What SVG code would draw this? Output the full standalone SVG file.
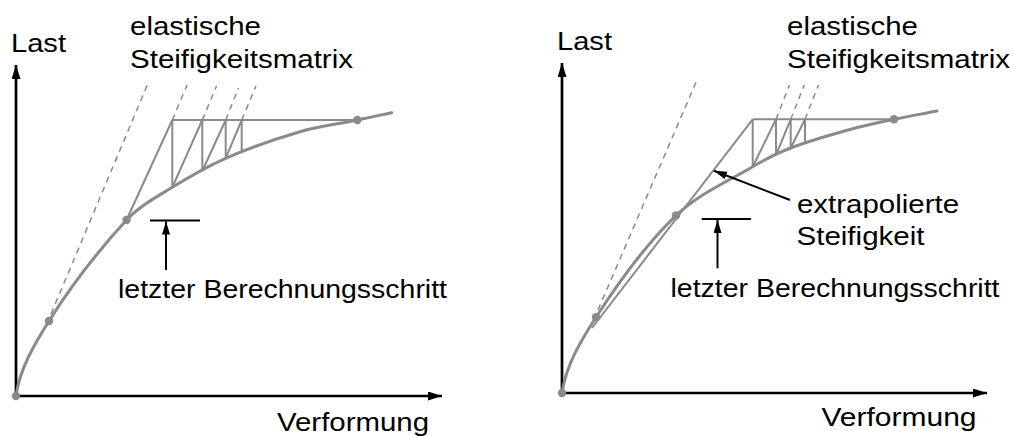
<svg xmlns="http://www.w3.org/2000/svg" width="1013" height="436" viewBox="0 0 1013 436">
<style>
.ax{stroke:#000;stroke-width:2.7;fill:none}
.ar{stroke:#000;stroke-width:2;fill:none}
.cv{stroke:#8a8a8a;stroke-width:3;fill:none;stroke-linecap:round}
.ln{stroke:#8a8a8a;stroke-width:2;fill:none}
.ds{stroke:#8a8a8a;stroke-width:1.5;fill:none;stroke-dasharray:6 5}
.dt{fill:#8a8a8a}
text{font-family:"Liberation Sans",Arial,sans-serif;font-size:26px;fill:#000}
</style>
<defs>
<marker id="ah" markerUnits="userSpaceOnUse" markerWidth="15" markerHeight="10" refX="14" refY="4.5" orient="auto">
<path d="M0,0 L14,4.5 L0,9 z" fill="#000"/>
</marker>
<marker id="ah2" markerUnits="userSpaceOnUse" markerWidth="14" markerHeight="10" refX="13" refY="4" orient="auto">
<path d="M0,0 L13,4 L0,8 z" fill="#000"/>
</marker>
</defs>

<g id="left-panel">
<g id="left-axes">
<line class="ax" x1="16" y1="396" x2="16" y2="65" marker-end="url(#ah)"/>
<line class="ax" x1="16" y1="396" x2="442" y2="396" marker-end="url(#ah)"/>
</g>
<g id="left-dashed">
<line class="ds" x1="51" y1="314" x2="149" y2="81"/>
<line class="ds" x1="172.3" y1="120" x2="187" y2="85"/>
<line class="ds" x1="202.3" y1="120" x2="216.5" y2="86"/>
<line class="ds" x1="225.7" y1="120" x2="238.5" y2="88"/>
<line class="ds" x1="241.7" y1="120" x2="256" y2="86"/>
</g>
<g id="left-steps">
<line class="ln" x1="126.5" y1="220" x2="172.3" y2="120"/>
<line class="ln" x1="172.3" y1="120" x2="357.3" y2="120"/>
<line class="ln" x1="172.3" y1="120" x2="172.3" y2="187.3"/>
<line class="ln" x1="202.3" y1="120" x2="202.3" y2="171"/>
<line class="ln" x1="225.7" y1="120" x2="225.7" y2="158.3"/>
<line class="ln" x1="241.7" y1="120" x2="241.7" y2="151.7"/>
<line class="ln" x1="172.3" y1="187.3" x2="202.3" y2="120"/>
<line class="ln" x1="202.3" y1="171" x2="225.7" y2="120"/>
<line class="ln" x1="225.7" y1="158.3" x2="241.7" y2="120"/>
</g>
<path id="left-curve" class="cv" d="M16,396 C19.6,368.9 34.5,344.1 49,321 C71.6,285.1 97.8,251.2 126.5,220 C139.2,206.2 156.3,197.2 172.3,187.3 C189.5,176.6 207.1,166.4 225.7,158.3 C249.8,147.8 274.8,139 300,131.7 C318.7,126.3 338.2,124 357.3,120 C368.8,117.6 380.2,115.1 391.7,112.7"/>
<g id="left-dots">
<circle class="dt" cx="16" cy="396" r="4.2"/>
<circle class="dt" cx="49" cy="321" r="4.2"/>
<circle class="dt" cx="126.5" cy="220" r="4.2"/>
<circle class="dt" cx="357.3" cy="120" r="4.2"/>
</g>
<g id="left-marker">
<line class="ar" x1="150" y1="220.5" x2="200" y2="220.5"/>
<line class="ar" x1="166" y1="270" x2="166" y2="221.5" marker-end="url(#ah2)"/>
</g>
<g id="left-labels">
<text x="11" y="52" textLength="55" lengthAdjust="spacingAndGlyphs">Last</text>
<text x="130" y="35" textLength="131" lengthAdjust="spacingAndGlyphs">elastische</text>
<text x="130" y="67.5" textLength="223" lengthAdjust="spacingAndGlyphs">Steifigkeitsmatrix</text>
<text x="118" y="298" textLength="329" lengthAdjust="spacingAndGlyphs">letzter Berechnungsschritt</text>
<text x="277" y="430.5" textLength="152" lengthAdjust="spacingAndGlyphs">Verformung</text>
</g>
</g>

<g id="right-panel">
<g id="right-axes">
<line class="ax" x1="562" y1="393" x2="562" y2="63" marker-end="url(#ah)"/>
<line class="ax" x1="562" y1="393" x2="987" y2="393" marker-end="url(#ah)"/>
</g>
<g id="right-dashed">
<line class="ds" x1="598" y1="310" x2="697" y2="80"/>
<line class="ds" x1="776" y1="119.3" x2="789.5" y2="85"/>
<line class="ds" x1="790.7" y1="119.3" x2="804.3" y2="85"/>
<line class="ds" x1="805" y1="119.3" x2="818.5" y2="85"/>
</g>
<g id="right-steps">
<line class="ln" x1="592" y1="328" x2="752.7" y2="119.3"/>
<line class="ln" x1="752.7" y1="119.3" x2="894" y2="119.3"/>
<line class="ln" x1="752.7" y1="119.3" x2="752.7" y2="166.7"/>
<line class="ln" x1="776" y1="119.3" x2="776" y2="155"/>
<line class="ln" x1="790.7" y1="119.3" x2="790.7" y2="148"/>
<line class="ln" x1="805" y1="119.3" x2="805" y2="143.3"/>
<line class="ln" x1="752.7" y1="166.7" x2="776" y2="119.3"/>
<line class="ln" x1="776" y1="155" x2="790.7" y2="119.3"/>
<line class="ln" x1="790.7" y1="148" x2="805" y2="119.3"/>
</g>
<path id="right-curve" class="cv" d="M562,393 C565.7,365.6 581,340.6 596,317.3 C619.3,281 644.9,245.4 676,215.5 C697.8,194.5 726.6,182.1 752.7,166.7 C764.9,159.5 777.5,153 790.7,148 C810,140.6 830,135 850,129.5 C864.6,125.5 879.2,122.4 894,119.3 C908.3,116.3 922.7,113.8 937,111"/>
<g id="right-dots">
<circle class="dt" cx="562" cy="393" r="4.2"/>
<circle class="dt" cx="596" cy="317.3" r="4.2"/>
<circle class="dt" cx="676" cy="215.5" r="4.2"/>
<circle class="dt" cx="894" cy="119.3" r="4.2"/>
</g>
<g id="right-marker">
<line class="ar" x1="701.7" y1="219" x2="751" y2="219"/>
<line class="ar" x1="717.5" y1="268.3" x2="717.5" y2="220" marker-end="url(#ah2)"/>
<line class="ar" x1="790" y1="200" x2="714" y2="170.7" marker-end="url(#ah2)"/>
</g>
<g id="right-labels">
<text x="557" y="50" textLength="55" lengthAdjust="spacingAndGlyphs">Last</text>
<text x="787" y="35" textLength="131" lengthAdjust="spacingAndGlyphs">elastische</text>
<text x="787" y="68" textLength="223" lengthAdjust="spacingAndGlyphs">Steifigkeitsmatrix</text>
<text x="797" y="213" textLength="162" lengthAdjust="spacingAndGlyphs">extrapolierte</text>
<text x="796.5" y="245" textLength="128" lengthAdjust="spacingAndGlyphs">Steifigkeit</text>
<text x="670.5" y="296.7" textLength="329" lengthAdjust="spacingAndGlyphs">letzter Berechnungsschritt</text>
<text x="821.5" y="426" textLength="155" lengthAdjust="spacingAndGlyphs">Verformung</text>
</g>
</g>
</svg>
